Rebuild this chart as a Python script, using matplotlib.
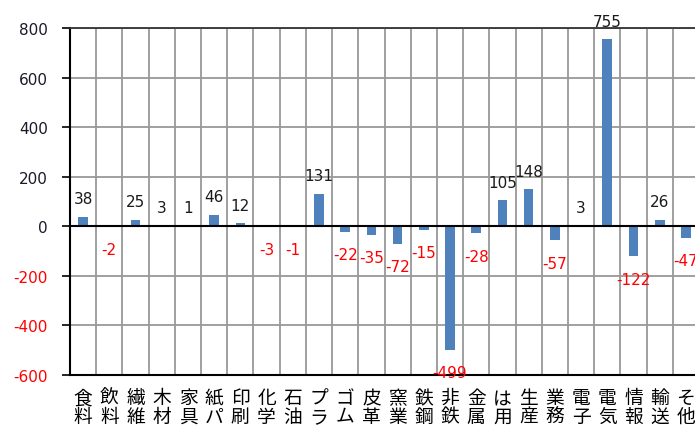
import matplotlib
matplotlib.use("Agg")
import matplotlib.pyplot as plt
import numpy as np

categories = ["食料", "飲料", "繊維", "木材", "家具", "紙パ", "印刷", "化学", "石油", "プラ",
              "ゴム", "皮革", "窯業", "鉄鋼", "非鉄", "金属", "は用", "生産", "業務", "電子",
              "電気", "情報", "輸送", "そ他"]
values = [38, -2, 25, 3, 1, 46, 12, -3, -1, 131,
          -22, -35, -72, -15, -499, -28, 105, 148, -57, 3,
          755, -122, 26, -47]
yticks = [-600, -400, -200, 0, 200, 400, 600, 800]

fig = plt.figure(figsize=(6.95, 4.27), dpi=100)
ax = fig.add_axes([70 / 695, 1 - 375.7 / 427, 629 / 695, (375.7 - 29) / 427])

x = np.arange(len(categories))
ax.bar(x, values, width=0.37, color="#4F81BD", zorder=3)

ax.set_xlim(-0.5, len(categories) - 0.5)
ax.set_ylim(-600, 800)
ax.set_yticks(yticks)
ax.set_yticklabels([str(v) for v in yticks])
for lab, v in zip(ax.get_yticklabels(), yticks):
    lab.set_color("red" if v < 0 else "#1a1a2a")
ax.tick_params(axis="y", length=6, width=1.2, pad=10, labelsize=11)

ax.set_xticks(x)
ax.set_xticklabels(["\n".join(c) for c in categories], family=["Noto Sans CJK JP", "DejaVu Sans"],
                   fontsize=13.5, linespacing=0.85)
ax.tick_params(axis="x", length=0, pad=9)
ax.set_xticks(np.arange(len(categories) + 1) - 0.5, minor=True)
ax.tick_params(axis="x", which="minor", length=0)

ax.grid(True, which="minor", axis="x", color="#999999", lw=1.3, zorder=0)
ax.grid(True, which="major", axis="y", color="#999999", lw=1.3, zorder=0)
ax.axhline(0, color="black", lw=1.5, zorder=4)

for s in ["left", "bottom"]:
    ax.spines[s].set_color("black")
    ax.spines[s].set_linewidth(1.5)
ax.spines["top"].set_color("#333333")
ax.spines["top"].set_linewidth(1.3)
ax.spines["right"].set_visible(False)

for xi, v in zip(x, values):
    if v >= 0:
        ax.annotate(str(v), (xi, v), xytext=(0, 18), textcoords="offset pixels",
                    ha="center", va="center", fontsize=11, color="#1a1a1a")
    else:
        ax.annotate(str(v), (xi, v), xytext=(0, -23), textcoords="offset pixels",
                    ha="center", va="center", fontsize=11, color="red", zorder=5)

fig.savefig("out.png", dpi=100)
